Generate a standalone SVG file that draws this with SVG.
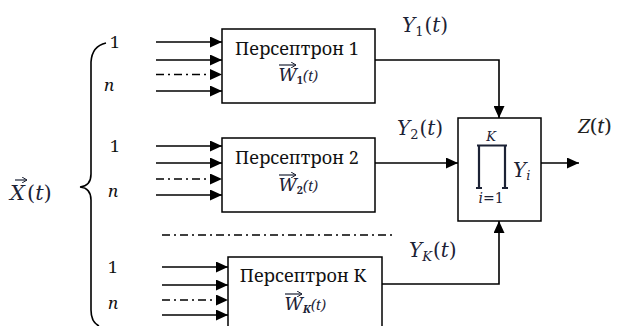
<svg xmlns="http://www.w3.org/2000/svg" width="617" height="326" viewBox="0 0 617 326">
<style>
.box{fill:#fff;stroke:#000;stroke-width:1.5}
.ln{fill:none;stroke:#000;stroke-width:1.6}
.dd{fill:none;stroke:#000;stroke-width:1.6;stroke-dasharray:8 4 2 4}
.lbl{font-family:'Noto Serif',serif;font-size:18px;fill:#111}
.num{font-family:'Noto Serif',serif;font-size:17px;fill:#111}
.it{font-family:'Noto Serif',serif;font-size:17px;font-style:italic;fill:#111}
.m{font-family:'DejaVu Serif',serif;fill:#1c2235}
.w{font-family:'Noto Serif',serif;fill:#1c2235}
.vec{fill:none;stroke:#1c2235;stroke-width:1.2}
</style>
<defs>
<marker id="ah" markerUnits="userSpaceOnUse" markerWidth="13" markerHeight="11" refX="12" refY="5.5" orient="auto">
<path d="M0,0 L12,5.5 L0,11 Z" fill="#000"/>
</marker>
<marker id="va" markerUnits="userSpaceOnUse" markerWidth="6" markerHeight="6" refX="5" refY="3" orient="auto">
<path d="M0,0 L5,3 L0,6" fill="none" stroke="#1c2235" stroke-width="1"/>
</marker>
</defs>

<g id="input">
<path class="ln" d="M106,43 Q92,46 91,62 L91,174 Q91,186 80,187 Q91,188 91,200 L91,310 Q91,322 99,326"/>
<text class="m" x="10" y="200" font-size="21"><tspan font-style="italic">X</tspan><tspan dx="2">(</tspan><tspan font-style="italic">t</tspan>)</text>
<path class="vec" d="M15,180 L27,180" marker-end="url(#va)"/>
<text class="num" x="110" y="48">1</text>
<text class="it" x="104" y="91">n</text>
<text class="num" x="110" y="152">1</text>
<text class="it" x="108" y="197">n</text>
<text class="num" x="108" y="273">1</text>
<text class="it" x="108" y="309">n</text>
</g>

<g id="connectors">
<line class="ln" x1="156" y1="42" x2="222" y2="42" marker-end="url(#ah)"/>
<line class="ln" x1="156" y1="60" x2="222" y2="60" marker-end="url(#ah)"/>
<line class="dd" x1="156" y1="74.5" x2="222" y2="74.5" marker-end="url(#ah)"/>
<line class="ln" x1="156" y1="91" x2="222" y2="91" marker-end="url(#ah)"/>

<line class="ln" x1="156" y1="146" x2="222" y2="146" marker-end="url(#ah)"/>
<line class="ln" x1="156" y1="163" x2="222" y2="163" marker-end="url(#ah)"/>
<line class="dd" x1="156" y1="179" x2="222" y2="179" marker-end="url(#ah)"/>
<line class="ln" x1="156" y1="195" x2="222" y2="195" marker-end="url(#ah)"/>

<line class="ln" x1="162" y1="267" x2="228" y2="267" marker-end="url(#ah)"/>
<line class="ln" x1="162" y1="285" x2="228" y2="285" marker-end="url(#ah)"/>
<line class="dd" x1="162" y1="300" x2="228" y2="300" marker-end="url(#ah)"/>
<line class="ln" x1="162" y1="315" x2="228" y2="315" marker-end="url(#ah)"/>

<line class="dd" x1="162" y1="235" x2="394" y2="235"/>

<path class="ln" d="M375,60 L499,60 L499,118" marker-end="url(#ah)"/>
<line class="ln" x1="375" y1="163" x2="458" y2="163" marker-end="url(#ah)"/>
<path class="ln" d="M382,284 L499,284 L499,221" marker-end="url(#ah)"/>
<line class="ln" x1="541" y1="163" x2="579" y2="163" marker-end="url(#ah)"/>

<text class="m" x="402" y="32" font-size="20"><tspan font-style="italic">Y</tspan><tspan font-size="13" dy="4">1</tspan><tspan dy="-4" dx="1">(</tspan><tspan font-style="italic">t</tspan>)</text>
<text class="m" x="397" y="135" font-size="20"><tspan font-style="italic">Y</tspan><tspan font-size="13" dy="4">2</tspan><tspan dy="-4" dx="1">(</tspan><tspan font-style="italic">t</tspan>)</text>
<text class="m" x="409" y="257" font-size="20"><tspan font-style="italic">Y</tspan><tspan font-size="13" font-style="italic" dy="4">K</tspan><tspan dy="-4" dx="1">(</tspan><tspan font-style="italic">t</tspan>)</text>
<text class="w" x="578" y="133" font-size="20" style="fill:#222"><tspan font-style="italic">Z</tspan>(<tspan font-style="italic">t</tspan>)</text>
</g>

<g id="perceptron1">
<rect class="box" x="222" y="29" width="153" height="74"/>
<text class="lbl" x="297" y="55" text-anchor="middle">Персептрон 1</text>
<text class="w" x="278" y="81" font-size="18"><tspan font-style="italic">W</tspan><tspan font-size="11" font-weight="bold" dy="3">1</tspan><tspan dy="-3" font-size="14" font-style="italic">(t)</tspan></text>
<path class="vec" d="M279,65 L296,65" marker-end="url(#va)"/>
</g>

<g id="perceptron2">
<rect class="box" x="222" y="138" width="153" height="74"/>
<text class="lbl" x="297" y="164" text-anchor="middle">Персептрон 2</text>
<text class="w" x="278" y="191" font-size="18"><tspan font-style="italic">W</tspan><tspan font-size="11" font-weight="bold" dy="3">2</tspan><tspan dy="-3" font-size="14" font-style="italic">(t)</tspan></text>
<path class="vec" d="M279,175 L296,175" marker-end="url(#va)"/>
</g>

<g id="perceptronK">
<rect class="box" x="228" y="257" width="154" height="80"/>
<text class="lbl" x="303" y="282" text-anchor="middle">Персептрон К</text>
<text class="w" x="284" y="310" font-size="18"><tspan font-style="italic">W</tspan><tspan font-size="11" font-style="italic" font-weight="bold" dy="3">K</tspan><tspan dy="-3" font-size="14" font-style="italic">(t)</tspan></text>
<path class="vec" d="M285,294 L302,294" marker-end="url(#va)"/>
</g>

<g id="product">
<rect class="box" x="458" y="118" width="83" height="103"/>
<text class="m" x="491" y="141" font-size="13" font-style="italic" text-anchor="middle">K</text>
<path d="M477,145.5 L507,145.5 M479,145 L479,188 M505,145 L505,188 M476,188 L482,188 M502,188 L508,188" fill="none" stroke="#1c2235" stroke-width="2.2"/>
<text class="m" x="491" y="203" font-size="14" text-anchor="middle"><tspan font-style="italic">i</tspan>=1</text>
<text class="m" x="513" y="177" font-size="20"><tspan font-style="italic">Y</tspan><tspan font-size="13" font-style="italic" dy="3">i</tspan></text>
</g>
</svg>
